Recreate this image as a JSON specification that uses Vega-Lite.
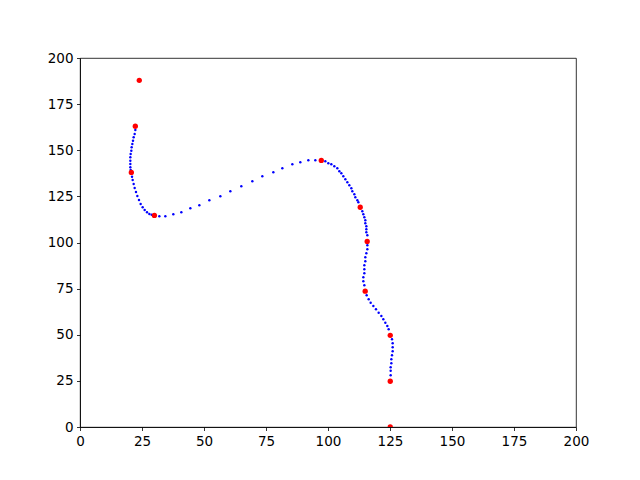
{
  "$schema": "https://vega.github.io/schema/vega-lite/v6.json",
  "width": 496,
  "height": 369,
  "autosize": {"type": "none"},
  "padding": {"left": 80, "top": 58, "right": 64, "bottom": 53},
  "background": "white",
  "config": {
    "view": {"stroke": "black", "strokeWidth": 0.8},
    "axis": {
      "grid": false,
      "domainColor": "black",
      "domainWidth": 0.8,
      "tickColor": "black",
      "tickWidth": 0.8,
      "tickSize": 3.5,
      "labelFont": "DejaVu Sans",
      "labelFontSize": 13.5,
      "labelColor": "black",
      "labelPadding": 3.5,
      "labelFlush": false,
      "labelOverlap": false,
      "labelBound": false,
      "title": null
    }
  },
  "datasets": {
    "blue": [
      {"x": 22.31, "y": 160.98}, {"x": 22.04, "y": 158.81}, {"x": 21.64, "y": 157.0}, {"x": 21.37, "y": 155.19},
      {"x": 21.10, "y": 153.39}, {"x": 20.83, "y": 151.58}, {"x": 20.70, "y": 149.77}, {"x": 20.43, "y": 147.97},
      {"x": 20.30, "y": 146.16}, {"x": 20.30, "y": 144.35}, {"x": 20.30, "y": 142.55}, {"x": 20.30, "y": 140.74},
      {"x": 20.43, "y": 139.30},
      {"x": 20.97, "y": 135.68}, {"x": 21.24, "y": 133.88}, {"x": 21.64, "y": 131.71}, {"x": 22.04, "y": 129.54},
      {"x": 22.58, "y": 127.37}, {"x": 23.12, "y": 125.20}, {"x": 23.79, "y": 123.04}, {"x": 24.46, "y": 120.87},
      {"x": 25.27, "y": 119.06}, {"x": 26.08, "y": 117.62}, {"x": 27.02, "y": 116.35}, {"x": 27.96, "y": 115.45},
      {"x": 28.90, "y": 115.08},
      {"x": 31.99, "y": 114.18}, {"x": 34.41, "y": 114.18}, {"x": 37.63, "y": 115.27}, {"x": 40.86, "y": 116.35},
      {"x": 44.49, "y": 118.52}, {"x": 48.12, "y": 120.15}, {"x": 52.15, "y": 122.86}, {"x": 56.59, "y": 125.02},
      {"x": 60.62, "y": 127.73}, {"x": 65.05, "y": 130.44}, {"x": 69.49, "y": 133.15}, {"x": 73.52, "y": 135.86},
      {"x": 77.96, "y": 138.03}, {"x": 81.59, "y": 140.20}, {"x": 85.62, "y": 142.37}, {"x": 88.84, "y": 143.45},
      {"x": 92.07, "y": 144.54}, {"x": 94.89, "y": 144.54},
      {"x": 98.92, "y": 143.99}, {"x": 100.13, "y": 142.91}, {"x": 101.34, "y": 142.37}, {"x": 102.55, "y": 141.28},
      {"x": 103.76, "y": 140.20}, {"x": 104.57, "y": 138.57}, {"x": 105.38, "y": 137.49}, {"x": 106.18, "y": 135.86},
      {"x": 106.99, "y": 134.24}, {"x": 107.80, "y": 132.61}, {"x": 108.60, "y": 130.99}, {"x": 109.41, "y": 129.36},
      {"x": 109.81, "y": 127.73}, {"x": 110.62, "y": 126.11}, {"x": 111.02, "y": 124.48}, {"x": 111.83, "y": 122.86},
      {"x": 112.23, "y": 121.77},
      {"x": 113.84, "y": 116.89}, {"x": 114.25, "y": 115.27}, {"x": 114.65, "y": 113.64}, {"x": 115.05, "y": 112.02},
      {"x": 115.05, "y": 110.39}, {"x": 115.46, "y": 108.76}, {"x": 115.46, "y": 107.14}, {"x": 115.46, "y": 105.51},
      {"x": 115.86, "y": 103.89},
      {"x": 115.86, "y": 98.47}, {"x": 115.86, "y": 96.31}, {"x": 115.46, "y": 94.13}, {"x": 115.05, "y": 91.96},
      {"x": 115.05, "y": 89.79}, {"x": 114.65, "y": 87.63}, {"x": 114.65, "y": 85.46}, {"x": 114.65, "y": 83.29},
      {"x": 114.25, "y": 81.12}, {"x": 114.25, "y": 78.95}, {"x": 114.65, "y": 76.79},
      {"x": 115.59, "y": 71.37}, {"x": 116.40, "y": 69.20}, {"x": 117.20, "y": 67.39}, {"x": 118.28, "y": 65.58},
      {"x": 119.35, "y": 63.78}, {"x": 120.43, "y": 61.97}, {"x": 121.51, "y": 60.16}, {"x": 122.31, "y": 58.36},
      {"x": 123.12, "y": 56.55}, {"x": 123.92, "y": 54.74}, {"x": 124.46, "y": 52.94},
      {"x": 125.81, "y": 47.52}, {"x": 126.08, "y": 45.35}, {"x": 126.08, "y": 43.18}, {"x": 126.08, "y": 41.01},
      {"x": 125.81, "y": 38.85}, {"x": 125.54, "y": 36.68}, {"x": 125.54, "y": 34.51}, {"x": 125.27, "y": 32.34},
      {"x": 125.27, "y": 30.53}, {"x": 125.27, "y": 28.0}
    ],
    "red": [
      {"x": 23.9, "y": 187.9}, {"x": 22.3, "y": 163.0}, {"x": 20.7, "y": 138.0}, {"x": 30.0, "y": 114.7},
      {"x": 97.3, "y": 144.5}, {"x": 113.0, "y": 119.1}, {"x": 115.8, "y": 100.6}, {"x": 115.0, "y": 73.6},
      {"x": 125.1, "y": 49.7}, {"x": 125.1, "y": 24.8}, {"x": 125.1, "y": 0.0}
    ]
  },
  "layer": [
    {
      "data": {"name": "blue"},
      "mark": {"type": "point", "filled": true, "size": 6, "opacity": 1, "color": "blue", "clip": true},
      "encoding": {
        "x": {"field": "x", "type": "quantitative", "scale": {"domain": [0, 200], "nice": false}, "axis": {"values": [0, 25, 50, 75, 100, 125, 150, 175, 200]}},
        "y": {"field": "y", "type": "quantitative", "scale": {"domain": [0, 200], "nice": false}, "axis": {"values": [0, 25, 50, 75, 100, 125, 150, 175, 200]}}
      }
    },
    {
      "data": {"name": "red"},
      "mark": {"type": "point", "filled": true, "size": 28, "opacity": 1, "color": "red", "clip": true},
      "encoding": {
        "x": {"field": "x", "type": "quantitative"},
        "y": {"field": "y", "type": "quantitative"}
      }
    }
  ]
}
